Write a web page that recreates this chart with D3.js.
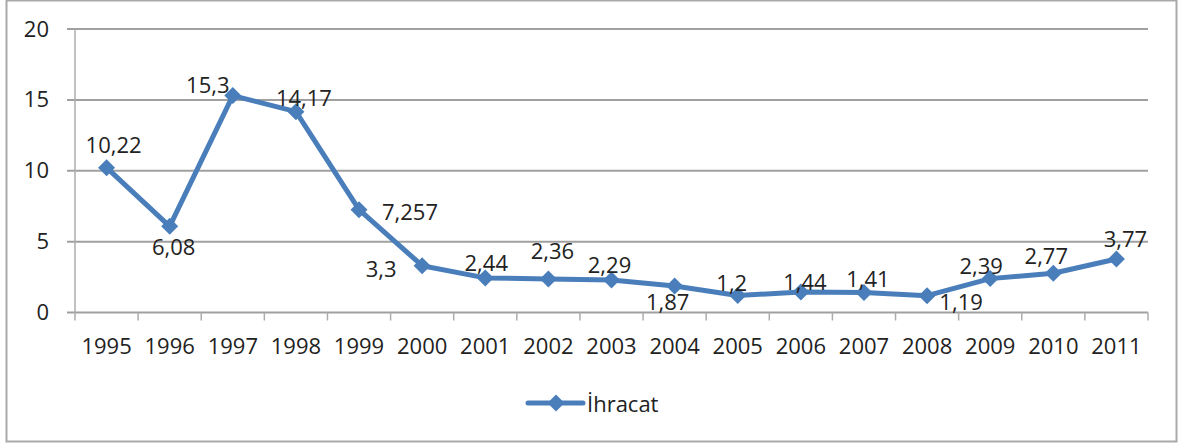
<!DOCTYPE html>
<html><head><meta charset="utf-8">
<script src="https://cdn.jsdelivr.net/npm/d3@7"></script>
<style>
body{margin:0;background:#fff}
text{font-family:"Open Sans",sans-serif;font-size:22px;fill:#222}
</style>
</head><body>
<svg id="c" width="1194" height="446"></svg>
<script>
// ---- data ----
const years = ["1995","1996","1997","1998","1999","2000","2001","2002","2003","2004","2005","2006","2007","2008","2009","2010","2011"];
const ihracat = [10.22, 6.08, 15.3, 14.17, 7.257, 3.3, 2.44, 2.36, 2.29, 1.87, 1.2, 1.44, 1.41, 1.19, 2.39, 2.77, 3.77];
const valueLabels = ["10,22","6,08","15,3","14,17","7,257","3,3","2,44","2,36","2,29","1,87","1,2","1,44","1,41","1,19","2,39","2,77","3,77"];
const yTicks = [0, 5, 10, 15, 20];
const seriesName = "İhracat";

// ---- layout (label placement offsets relative to each point) ----
const labelOffsets = [[7,-15],[4,29],[-25,-3],[8,-6],[51,10],[-41,11],[1,-7],[4,-20],[-2,-7],[-7,24],[-6,-4],[4,-2],[4,-6],[34,14],[-9,-5],[-7,-9],[9,-12]];

const svg = d3.select("#c");
const L = 75, R = 1148, T = 29, B = 312.5;
const color = "#4a7ebb";

// outer border
svg.append("rect").attr("x",6.5).attr("y",0.5).attr("width",1170).attr("height",441)
  .attr("fill","#fff").attr("stroke","#a9a9a9").attr("stroke-width",2);

const x = d3.scaleBand().domain(years).range([L, R]).padding(0);
const y = d3.scaleLinear().domain([0, 20]).range([B, T]);
const cx = d => x(d) + x.bandwidth()/2;

// gridlines (extend left as tick marks)
svg.append("g").selectAll("line").data(yTicks).join("line")
  .attr("x1", L-8).attr("x2", R)
  .attr("y1", d => y(d)).attr("y2", d => y(d))
  .attr("stroke", "#a0a0a0").attr("stroke-width", 2);

// y axis line
svg.append("line").attr("x1",L).attr("x2",L).attr("y1",T).attr("y2",B)
  .attr("stroke","#acacac").attr("stroke-width",1.5);

// x tick marks at category boundaries
const bounds = years.map(d => x(d)).concat([R]);
svg.append("g").selectAll("line").data(bounds).join("line")
  .attr("x1", d => d).attr("x2", d => d).attr("y1", B).attr("y2", B+8)
  .attr("stroke","#acacac").attr("stroke-width",1.5);

// y axis labels
const ya = svg.append("g").attr("transform", `translate(${L},0)`)
  .call(d3.axisLeft(y).tickValues(yTicks).tickSize(0).tickPadding(26).tickFormat(d3.format("d")));
ya.select(".domain").remove();
ya.selectAll("text").attr("fill","#222").style("font-size","22px").style("font-family","'Open Sans',sans-serif");

// x axis labels
const xa = svg.append("g").attr("transform", `translate(0,${B})`)
  .call(d3.axisBottom(x).tickSize(0).tickPadding(26));
xa.select(".domain").remove();
xa.selectAll("text").attr("fill","#222").style("font-size","22px").style("font-family","'Open Sans',sans-serif");

// line
const line = d3.line().x((d,i) => cx(years[i])).y(d => y(d));
svg.append("path").datum(ihracat).attr("d", line)
  .attr("fill","none").attr("stroke",color).attr("stroke-width",5).attr("stroke-linejoin","round");

// markers
const s = 8.5;
const diamond = `M0,${-s}L${s},0L0,${s}L${-s},0Z`;
svg.append("g").selectAll("path").data(ihracat).join("path")
  .attr("d", diamond)
  .attr("transform", (d,i) => `translate(${cx(years[i])},${y(d)})`)
  .attr("fill", color);

// data labels
svg.append("g").selectAll("text").data(ihracat).join("text")
  .attr("x", (d,i) => cx(years[i]) + labelOffsets[i][0])
  .attr("y", (d,i) => y(d) + labelOffsets[i][1])
  .attr("text-anchor","middle")
  .text((d,i) => valueLabels[i]);

// legend
const lg = svg.append("g");
lg.append("line").attr("x1",528).attr("x2",583).attr("y1",403).attr("y2",403)
  .attr("stroke",color).attr("stroke-width",5).attr("stroke-linecap","round");
lg.append("path").attr("d",diamond).attr("transform","translate(556,403)").attr("fill",color);
lg.append("text").attr("x",587).attr("y",412).text(seriesName);
</script>
</body></html>
